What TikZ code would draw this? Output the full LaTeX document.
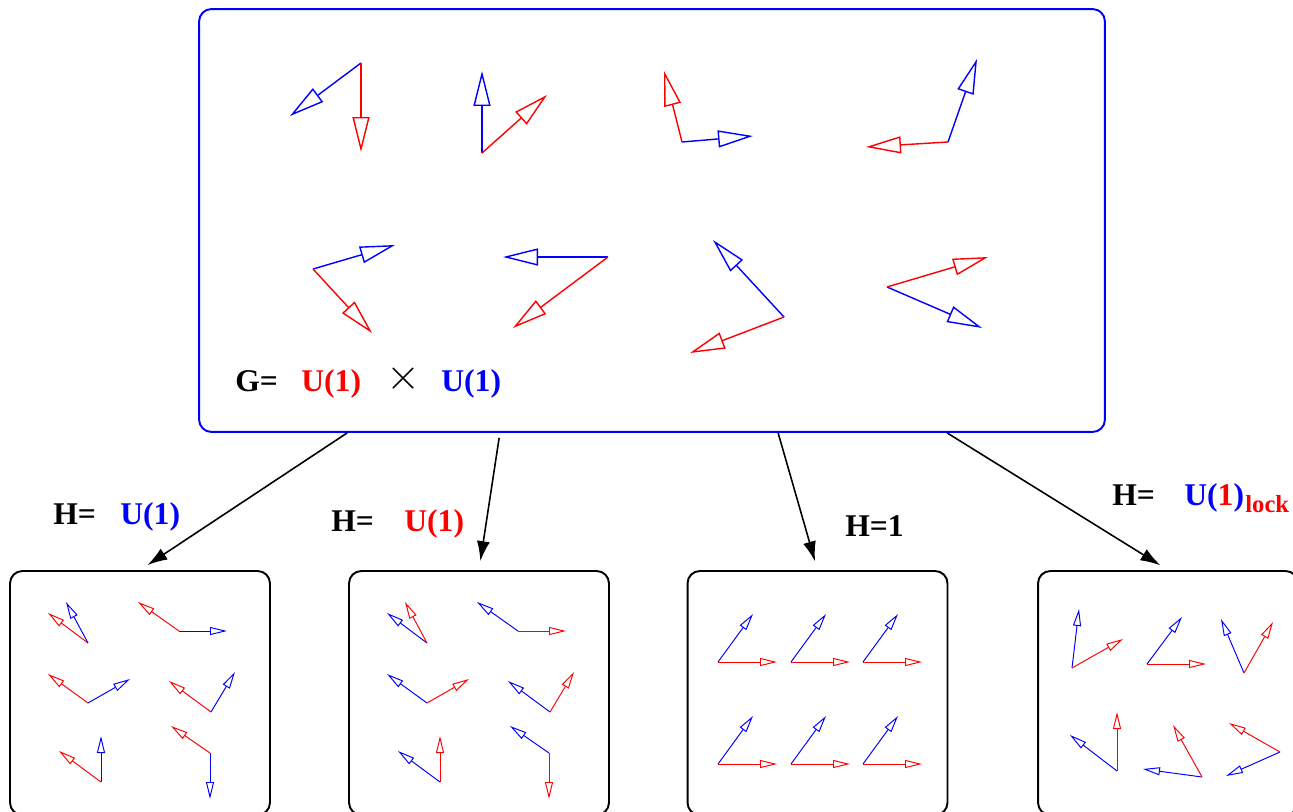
\documentclass[tikz,border=0pt]{standalone}
\usepackage{fontspec}
\setmainfont{Liberation Serif}
\definecolor{vblue}{RGB}{0,0,255}
\definecolor{vred}{RGB}{255,0,0}
\usetikzlibrary{arrows.meta,positioning,calc}

\begin{document}
\begin{tikzpicture}[x=0.02cm, y=-0.02cm, font=\bfseries\fontsize{18}{20}\selectfont]
    \tikzset{gbox/.style={rectangle, rounded corners=7pt, minimum width=18.12cm,
      minimum height=8.46cm, draw=vblue, line width=1.1pt}}
    \tikzset{hbox/.style={rectangle, rounded corners=7pt, minimum width=5.2cm,
      minimum height=4.88cm, draw=black, line width=1.1pt}}
    \tikzset{bigvec/.style={-{Triangle[open, length=0.7cm, width=0.34cm]}, line width=0.8pt}}
    \tikzset{smallvec/.style={-{Triangle[open, length=0.34cm, width=0.16cm]}, line width=0.55pt}}
    \tikzset{harrow/.style={-{Latex[length=0.4cm, width=0.26cm]}, line width=0.9pt, shorten >=0.18cm}}
    \tikzset{lbl/.style={anchor=base west, inner sep=0pt}}
    \useasboundingbox (0,0) rectangle (1293,811);

    % G box
    \node[gbox] (g) at (652,220.5) {};
    \draw[bigvec, vblue] (361,63) -- (290,116);  \draw[bigvec, vred] (361,63) -- (361,152);
    \draw[bigvec, vblue] (482,153) -- (482,71);  \draw[bigvec, vred] (482,153) -- (547,95);
    \draw[bigvec, vblue] (682,142) -- (753,136); \draw[bigvec, vred] (682,142) -- (664,71);
    \draw[bigvec, vblue] (948,142) -- (977,59);  \draw[bigvec, vred] (948,142) -- (866,147);
    \draw[bigvec, vblue] (313,269) -- (395,245); \draw[bigvec, vred] (313,269) -- (372,333);
    \draw[bigvec, vblue] (608,257) -- (503,257); \draw[bigvec, vred] (608,257) -- (513,328);
    \draw[bigvec, vblue] (784,317) -- (713,240); \draw[bigvec, vred] (784,317) -- (690,353);
    \draw[bigvec, vblue] (887,287) -- (982,328); \draw[bigvec, vred] (887,287) -- (988,257);
    \node[lbl] (geq) at (235,391) {G=};
    \node[lbl, text=vred] (gred) at (301,391) {U(1)};
    \node[font=\fontsize{32}{34}\selectfont, inner sep=0pt] (gx) at (403,379) {$\times$};
    \node[lbl, text=vblue] (gblue) at (441,391) {U(1)};

    % H boxes
    \node[hbox] (h1) at (140,693) {};
    \node[hbox] (h2) at (479,693) {};
    \node[hbox] (h3) at (817.5,693) {};
    \node[hbox] (h4) at (1168,693) {};

    % H = blue U(1)
    \draw[smallvec, vred] (88,643) -- (48,613);   \draw[smallvec, vblue] (88,643) -- (66,602);
    \draw[smallvec, vred] (179,631) -- (138,602); \draw[smallvec, vblue] (179,631) -- (227,631);
    \draw[smallvec, vred] (88,703) -- (48,674);   \draw[smallvec, vblue] (88,703) -- (130,679);
    \draw[smallvec, vred] (211,712) -- (169,681); \draw[smallvec, vblue] (211,712) -- (235,672);
    \draw[smallvec, vred] (101,782) -- (59,751);  \draw[smallvec, vblue] (101,782) -- (101,736);
    \draw[smallvec, vred] (210,753) -- (171,726); \draw[smallvec, vblue] (210,753) -- (210,799);

    % H = red U(1)
    \draw[smallvec, vblue] (427,643) -- (387,613); \draw[smallvec, vred] (427,643) -- (405,602);
    \draw[smallvec, vblue] (518,631) -- (477,602); \draw[smallvec, vred] (518,631) -- (566,631);
    \draw[smallvec, vblue] (427,703) -- (387,674); \draw[smallvec, vred] (427,703) -- (469,679);
    \draw[smallvec, vblue] (550,712) -- (508,681); \draw[smallvec, vred] (550,712) -- (574,672);
    \draw[smallvec, vblue] (440,782) -- (398,751); \draw[smallvec, vred] (440,782) -- (440,736);
    \draw[smallvec, vblue] (549,753) -- (510,726); \draw[smallvec, vred] (549,753) -- (549,799);

    % H = 1
    \draw[smallvec, vblue] (718,662) -- (753,614); \draw[smallvec, vred] (718,662) -- (777,662);
    \draw[smallvec, vblue] (791,662) -- (826,614); \draw[smallvec, vred] (791,662) -- (850,662);
    \draw[smallvec, vblue] (863,662) -- (898,614); \draw[smallvec, vred] (863,662) -- (922,662);
    \draw[smallvec, vblue] (718,764) -- (753,716); \draw[smallvec, vred] (718,764) -- (777,764);
    \draw[smallvec, vblue] (791,764) -- (826,716); \draw[smallvec, vred] (791,764) -- (850,764);
    \draw[smallvec, vblue] (863,764) -- (898,716); \draw[smallvec, vred] (863,764) -- (922,764);

    % H = U(1) lock
    \draw[smallvec, vblue] (1072,668) -- (1079,609); \draw[smallvec, vred] (1072,668) -- (1123,639);
    \draw[smallvec, vblue] (1147,664) -- (1182,617); \draw[smallvec, vred] (1147,664) -- (1206,664);
    \draw[smallvec, vblue] (1244,673) -- (1221,619); \draw[smallvec, vred] (1244,673) -- (1273,622);
    \draw[smallvec, vblue] (1117,771) -- (1070,735); \draw[smallvec, vred] (1117,771) -- (1117,712);
    \draw[smallvec, vblue] (1202,777) -- (1143,769); \draw[smallvec, vred] (1202,777) -- (1173,725);
    \draw[smallvec, vblue] (1280,752) -- (1226,776); \draw[smallvec, vred] (1280,752) -- (1229,723);

    % Breaking arrows
    \path (g.south west) ++(149,0) coordinate (g1);
    \path (g.south west) ++(301,5) coordinate (g2);
    \path (g.south west) ++(580,0) coordinate (g3);
    \path (g.south west) ++(749,0) coordinate (g4);
    \draw[harrow] (g1) -- (h1.north);
    \draw[harrow] (g2) -- (h2.north);
    \draw[harrow] (g3) -- (h3.north);
    \draw[harrow] (g4) -- (h4.north);

    % Subgroup labels
    \node[lbl] (h1eq) at (53,524) {H=};
    \node[lbl, text=vblue] (h1u) at (120,524) {U(1)};
    \node[lbl] (h2eq) at (331,531) {H=};
    \node[lbl, text=vred] (h2u) at (404,531) {U(1)};
    \node[lbl] (h3eq) at (845,536) {H=1};
    \node[lbl] (h4eq) at (1112,505) {H=};
    \node[lbl, text=vblue] (h4u) at (1184,505) {U(\textcolor{vred}{1})};
    \node[lbl, text=vred, font=\bfseries\fontsize{14}{16}\selectfont] (h4lock) at (1245,512) {lock};
  \end{tikzpicture}
\end{document}
